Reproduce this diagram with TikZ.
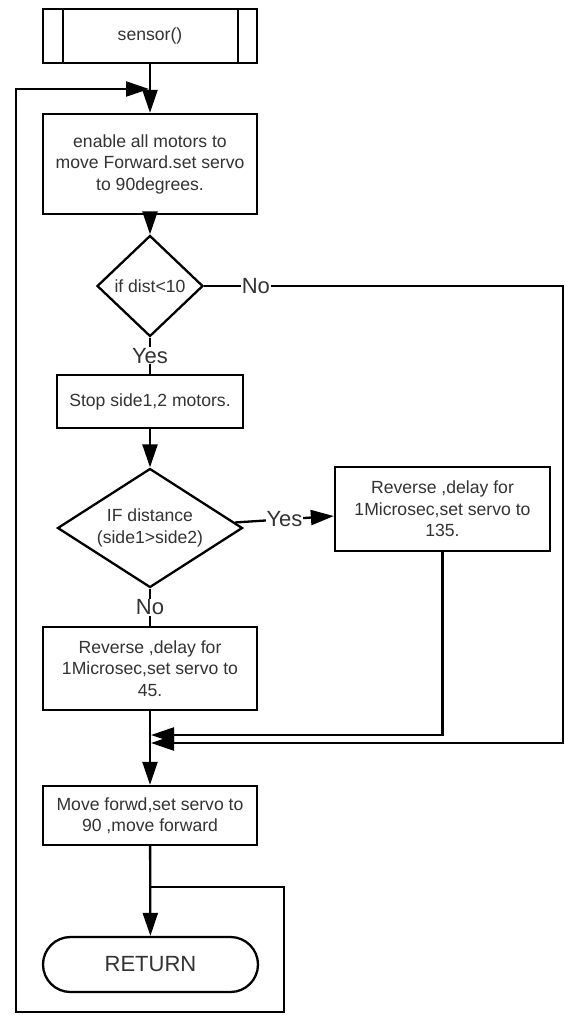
\documentclass[tikz,border=0pt]{standalone}
\usepackage{fontspec}
\setmainfont{Liberation Sans}
\usetikzlibrary{shapes.geometric,shapes.misc,arrows.meta}
\begin{document}
\begin{tikzpicture}[x=1pt,y=-1pt,
  line width=2.3pt,
  every node/.style={text=black!80, font=\fontsize{17.6}{21.5}\selectfont},
  box/.style={draw, rectangle, inner sep=0pt, align=center},
  dec/.style={draw, diamond, inner sep=0pt, align=center},
  lbl/.style={fill=white, inner sep=1pt, font=\fontsize{22}{24}\selectfont},
  arr/.style={-{Triangle[length=23pt,width=15pt]}},
]
\useasboundingbox (0,0) rectangle (565,1015);
\fill[white] (0,0) rectangle (565,1015);

\node[box, minimum width=214pt, minimum height=54pt] (sensor) at (150,36) {sensor()};
\draw ([xshift=21pt]sensor.north west) -- ([xshift=21pt]sensor.south west);
\draw ([xshift=-20pt]sensor.north east) -- ([xshift=-20pt]sensor.south east);

\node[box, minimum width=214pt, minimum height=100pt] (enable) at (150,164) {enable all motors to\\move Forward.set servo\\to 90degrees.};
\node[dec, minimum width=106pt, minimum height=101pt] (d1) at (150,286) {if dist<10};
\node[box, minimum width=186pt, minimum height=53pt] (stop) at (150,401.5) {Stop side1,2 motors.};
\node[dec, aspect=1.55, minimum width=185pt, minimum height=119pt] (d2) at (150,528) {IF distance\\(side1>side2)};
\node[box, minimum width=215pt, minimum height=84pt] (r135) at (442.5,509) {Reverse ,delay for\\1Microsec,set servo to\\135.};
\node[box, minimum width=214pt, minimum height=83pt] (r45) at (150,668.5) {Reverse ,delay for\\1Microsec,set servo to\\45.};
\node[box, minimum width=214pt, minimum height=59pt] (move) at (150,815.5) {Move forwd,set servo to\\90 ,move forward};
\node[draw, rounded rectangle, minimum width=215pt, minimum height=55pt, inner sep=0pt, font=\fontsize{22}{24}\selectfont] (ret) at (150.5,964.5) {RETURN};

\coordinate (m1) at (151,735);
\coordinate (m2) at (151,743);
\coordinate (noR) at (563,743);
\coordinate (br) at (150,887);
\coordinate (b1) at (284,887);
\coordinate (b2) at (284,1012);
\coordinate (b3) at (16,1012);
\coordinate (b4) at (16,89);
\coordinate (entry) at (149,89);

\draw[arr] (sensor) -- (enable);
\draw[arr] (enable) -- (d1);
\draw (d1) -- node[lbl]{Yes} (stop);
\draw[arr] (stop) -- (d2);
\draw[arr] (d2) -- node[lbl]{Yes} (r135);
\draw (d2) -- node[lbl]{No} (r45);
\draw[arr] (r45) -- (move);
\draw[arr] (move) -- (ret);
\draw[arr] (d1.east) -- node[lbl,pos=0.144]{No} (d1.east -| noR) -- (noR) -- (m2);
\draw[arr] (r135.south) |- (m1);
\draw[arr] (br) -- (b1) -- (b2) -- (b3) -- (b4) -- (entry);
\end{tikzpicture}
\end{document}
